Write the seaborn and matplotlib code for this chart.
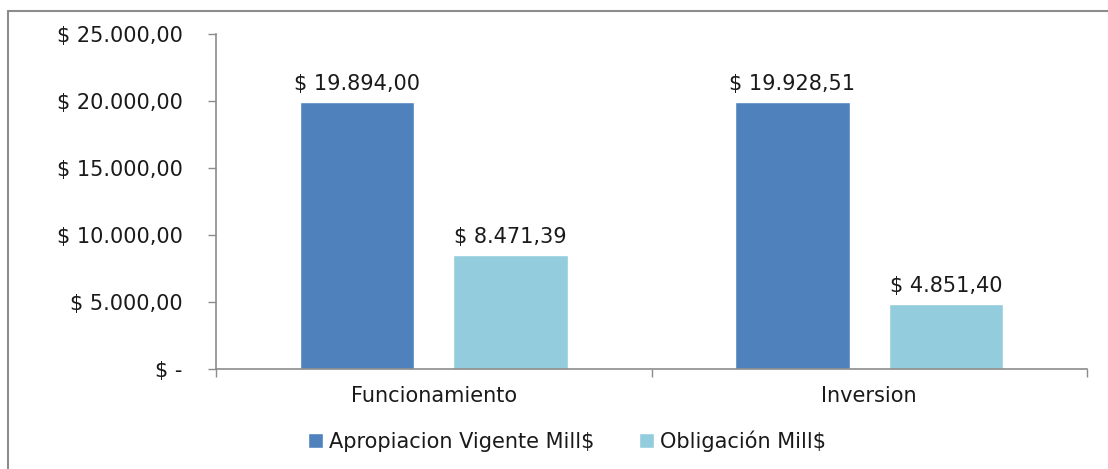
import matplotlib
matplotlib.use("Agg")
import matplotlib.pyplot as plt
from matplotlib.lines import Line2D
import seaborn as sns
import pandas as pd

categories = ["Funcionamiento", "Inversion"]
series = ["Apropiacion Vigente Mill$", "Obligación Mill$"]
apropiacion = [19894.00, 19928.51]
obligacion = [8471.39, 4851.40]
y_ticks = [0, 5000, 10000, 15000, 20000, 25000]
colors = ["#4F81BD", "#93CDDD"]


def pesos(v):
    if v == 0:
        return "$ -"
    s = f"{v:,.2f}"
    s = s.replace(",", "X").replace(".", ",").replace("X", ".")
    return "$ " + s


df = pd.DataFrame({
    "categoria": categories * 2,
    "serie": [series[0]] * 2 + [series[1]] * 2,
    "valor": apropiacion + obligacion,
})

sns.set_style("white")
plt.rcParams["font.family"] = ["DejaVu Sans"]
text_color = "#1a1a1a"
fs = 15

fig = plt.figure(figsize=(11.08, 4.69), dpi=100)
ax = fig.add_axes([0.195, 0.2132, 0.786, 0.7143])

sns.barplot(data=df, x="categoria", y="valor", hue="serie",
            palette=colors, saturation=1, width=0.705, gap=0.256, ax=ax,
            legend=True)

ax.set_xlim(-0.5, 1.5)
ax.set_ylim(0, 25000)
ax.set_yticks(y_ticks)
ax.set_yticklabels([pesos(v) for v in y_ticks])
ax.set_xlabel("")
ax.set_ylabel("")

for c in ax.containers:
    ax.bar_label(c, labels=[pesos(v) for v in c.datavalues], padding=6,
                 fontsize=fs, color=text_color)

for s in ["top", "right"]:
    ax.spines[s].set_visible(False)
for s in ["left", "bottom"]:
    ax.spines[s].set_color("#8c8c8c")
    ax.spines[s].set_linewidth(1.2)

ax.tick_params(axis="y", direction="out", length=6, width=1, color="#8c8c8c",
               pad=18, labelsize=fs, labelcolor=text_color, left=True)
ax.tick_params(axis="x", which="major", length=0, pad=12, labelsize=fs,
               labelcolor=text_color)
ax.set_xticks([-0.5, 0.5, 1.5], minor=True)
ax.tick_params(axis="x", which="minor", direction="out", length=6, width=1,
               color="#8c8c8c", bottom=True)

handles, labels = ax.get_legend_handles_labels()
ax.legend(handles, labels, loc="center", bbox_to_anchor=((567 - 216) / 871, -0.215),
          ncol=2, frameon=False, fontsize=fs, handlelength=0.75, handleheight=0.75,
          handletextpad=0.3, columnspacing=2.1, labelcolor=text_color)

# outer chart border (only top and left edges are visible in the frame)
fig.add_artist(Line2D([8 / 1108, 1.0], [1 - 11 / 469, 1 - 11 / 469],
                      transform=fig.transFigure, color="#8c8c8c", lw=1.5))
fig.add_artist(Line2D([8 / 1108, 8 / 1108], [0, 1 - 11 / 469],
                      transform=fig.transFigure, color="#8c8c8c", lw=1.5))

fig.savefig("out.png", dpi=100)
plt.close(fig)
